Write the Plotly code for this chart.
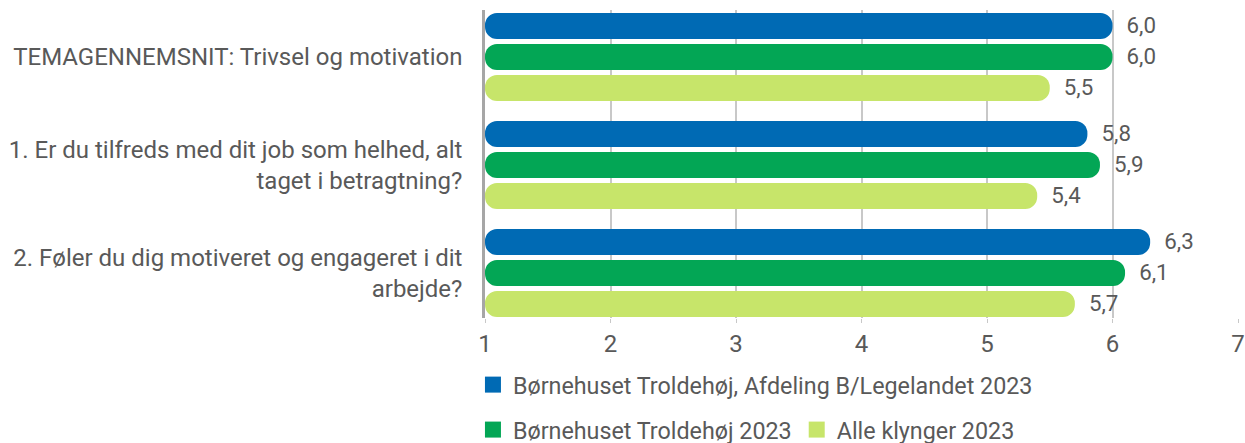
import plotly.graph_objects as go

categories = [
    "TEMAGENNEMSNIT: Trivsel og motivation",
    "1. Er du tilfreds med dit job som helhed, alt<br>taget i betragtning?",
    "2. Føler du dig motiveret og engageret i dit<br>arbejde?",
]
series_names = [
    "Børnehuset Troldehøj, Afdeling B/Legelandet 2023",
    "Børnehuset Troldehøj 2023",
    "Alle klynger 2023",
]
afdeling = [6.0, 5.8, 6.3]
troldehoj = [6.0, 5.9, 6.1]
alle = [5.5, 5.4, 5.7]
tick_vals = [1, 2, 3, 4, 5, 6, 7]

colors = ["#006AB4", "#03A655", "#C7E56A"]
values = [afdeling, troldehoj, alle]
legends = ["legend", "legend2", "legend2"]

FONT = "Roboto, Arial, sans-serif"
TXT = "#595959"
FS = 24
LFS = 23.3
NB = "\u00a0\u00a0"

fig = go.Figure()
for name, vals, col in zip(series_names, values, colors):
    fig.add_trace(go.Bar(
        y=categories, x=[v - 1 for v in vals], base=1, name=name, orientation="h",
        marker=dict(color=col, line=dict(width=0)),
        text=[NB + f"{v:.1f}".replace(".", ",") for v in vals],
        textposition="outside",
        textfont=dict(family=FONT, size=FS, color=TXT),
        cliponaxis=False,
        showlegend=False,
        hovertemplate="%{y}: %{text}<extra></extra>",
    ))

# legend entries (bigger square swatches)
for name, col, lg in zip(series_names, colors, legends):
    fig.add_trace(go.Scatter(
        x=[None], y=[None], mode="markers", name=name,
        marker=dict(symbol="square", size=16, color=col),
        legend=lg, showlegend=True,
    ))

fig.update_layout(
    width=1245, height=443,
    margin=dict(l=485, r=7, t=10, b=125, autoexpand=False),
    paper_bgcolor="white", plot_bgcolor="white",
    barmode="group", bargap=0.139, bargroupgap=0.16,
    barcornerradius=12,
    font=dict(family=FONT, size=FS, color=TXT),
    legend=dict(orientation="h", x=-0.016, xanchor="left", y=-0.146, yanchor="top",
                font=dict(family=FONT, size=LFS, color=TXT), itemclick=False,
                itemsizing="trace", bgcolor="rgba(0,0,0,0)"),
    legend2=dict(orientation="h", x=-0.016, xanchor="left", y=-0.292, yanchor="top",
                 font=dict(family=FONT, size=LFS, color=TXT), itemclick=False,
                 itemsizing="trace", bgcolor="rgba(0,0,0,0)"),
)
fig.update_xaxes(
    range=[1, 7], tickvals=tick_vals, ticktext=[str(t) for t in tick_vals],
    showgrid=True, gridcolor="#C8C8C8", gridwidth=1.5,
    zeroline=False, showline=False,
    ticks="outside", ticklen=4, tickcolor="#C8C8C8",
    tickfont=dict(family=FONT, size=FS, color=TXT),
)
fig.update_yaxes(
    type="category", range=[2.417, -0.435],
    showline=True, linecolor="#A6A6A6", linewidth=2.5,
    showgrid=False, ticks="", ticklabelstandoff=15,
    tickfont=dict(family=FONT, size=FS, color=TXT),
)

fig.write_html(
    "out.html",
    config={"displayModeBar": False},
    post_script="document.body.style.margin='0';document.body.style.padding='0';"
                "document.body.style.overflow='hidden';",
)
